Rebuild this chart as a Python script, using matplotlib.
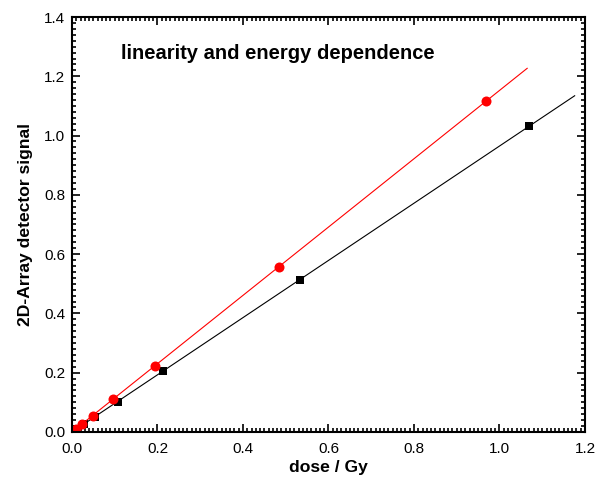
import matplotlib.pyplot as plt
import numpy as np
from matplotlib.ticker import MultipleLocator

plt.rcParams['font.family'] = ['Liberation Sans', 'DejaVu Sans']

# measured points: black squares and red circles
dose_black = [0.0107, 0.027, 0.054, 0.107, 0.213, 0.533, 1.069]
signal_black = [0.0105, 0.026, 0.052, 0.102, 0.205, 0.513, 1.032]
dose_red = [0.0097, 0.0242, 0.0484, 0.097, 0.194, 0.484, 0.968]
signal_red = [0.011, 0.028, 0.055, 0.112, 0.222, 0.555, 1.117]


def fit_through_origin(x, y):
    x = np.asarray(x)
    y = np.asarray(y)
    return (x * y).sum() / (x * x).sum()


def main() -> None:
    fig = plt.figure(figsize=(5.96, 4.9), dpi=100)
    ax = fig.add_axes([0.1208, 0.1184, 0.8607, 0.8469])

    for dose, signal, color, marker, ms in [
        (dose_black, signal_black, 'black', 's', 6.0),
        (dose_red, signal_red, 'red', 'o', 7.2),
    ]:
        k = fit_through_origin(dose, signal)
        xf = np.array([0.0, 1.1 * max(dose)])
        ax.plot(xf, k * xf, color=color, lw=0.8)
        ax.plot(dose, signal, linestyle='none', marker=marker, ms=ms,
                color=color, markeredgewidth=0)

    ax.set_xlim(0, 1.2)
    ax.set_ylim(0, 1.4)
    ax.xaxis.set_major_locator(MultipleLocator(0.2))
    ax.xaxis.set_minor_locator(MultipleLocator(0.01))
    ax.yaxis.set_major_locator(MultipleLocator(0.2))
    ax.yaxis.set_minor_locator(MultipleLocator(0.02))
    ax.xaxis.set_major_formatter(lambda v, p: f'{v:.1f}')
    ax.yaxis.set_major_formatter(lambda v, p: f'{v:.1f}')
    ax.tick_params(which='both', direction='in', top=True, right=True,
                   labelsize=11, width=1.2)
    ax.tick_params(which='major', length=6)
    ax.tick_params(axis='x', which='major', pad=7)
    ax.tick_params(axis='y', which='major', pad=5)
    ax.tick_params(which='minor', length=3)
    for s in ax.spines.values():
        s.set_linewidth(1.5)

    ax.set_xlabel('dose / Gy', fontsize=12.6, fontweight='bold', labelpad=3)
    ax.set_ylabel('2D-Array detector signal', fontsize=12.6, fontweight='bold',
                  labelpad=8)
    ax.text(0.0955, 0.913, 'linearity and energy dependence', transform=ax.transAxes,
            fontsize=14.5, fontweight='bold', va='center')

    fig.savefig('out.png', dpi=100)


if __name__ == '__main__':
    main()
